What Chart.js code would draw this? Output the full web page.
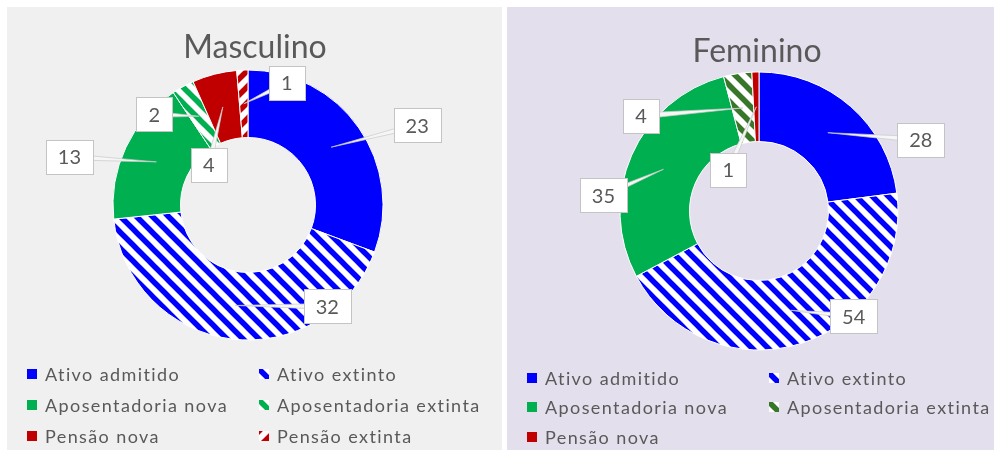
<!DOCTYPE html>
<html>
<head>
<meta charset="utf-8">
<script src="https://cdn.jsdelivr.net/npm/chart.js@4.4.0/dist/chart.umd.min.js"></script>
<style>
  body { margin: 0; background: #fff; width: 994px; height: 450px; overflow: hidden; position: relative; font-family: Lato, sans-serif; }
  .panel { position: absolute; top: 7px; height: 443px; }
  #panelM { left: 7px; width: 495px; background: #f0f0f0; }
  #panelF { left: 507px; width: 487px; background: #e4dfec; }
  .panel > canvas { position: absolute; left: 0; top: 0; }
  .legend { position: absolute; left: 20px; display: grid; color: #595959; font-size: 18px; letter-spacing: 1.4px; }
  .legend .item { display: flex; align-items: center; white-space: nowrap; }
  .legend .item canvas { margin-right: 8px; }
</style>
</head>
<body>
<div class="panel" id="panelM">
  <canvas id="chartM" width="495" height="440"></canvas>
  <div class="legend" id="legendM" style="top:351px; grid-template-columns:232px auto; grid-auto-rows:31px;"></div>
</div>
<div class="panel" id="panelF">
  <canvas id="chartF" width="487" height="440"></canvas>
  <div class="legend" id="legendF" style="top:356px; grid-template-columns:242px auto; grid-auto-rows:29.5px;"></div>
</div>
<script>
// categories and values
const categories = ["Ativo admitido", "Ativo extinto", "Aposentadoria nova", "Aposentadoria extinta", "Pensão nova", "Pensão extinta"];
const masculinoValues = [23, 32, 13, 2, 4, 1];
const femininoCategories = categories.slice(0, 5);
const femininoValues = [28, 54, 35, 4, 1];

// where each callout box sits, relative to the middle of its slice
const masculinoLabelOffsets = [[86, -22], [92, 1], [-87, -5], [-45, -2], [-14, 58], [43, -21]];
const femininoLabelOffsets = [[93, 7], [63, 6], [-60, 26], [-102, 8], [-28, 63]];

// white tile with diagonal stripes, used as a fill pattern
function stripes(color, dir) {
  const p = 16;
  const tile = document.createElement("canvas");
  tile.width = p; tile.height = p;
  const c = tile.getContext("2d");
  c.fillStyle = "#ffffff";
  c.fillRect(0, 0, p, p);
  c.strokeStyle = color;
  c.lineWidth = 5.5;
  for (let k = -1; k <= 2; k++) {
    c.beginPath();
    // lines run past the tile edges so the stripes join up
    if (dir === "\\") { c.moveTo(k * p - p, -p); c.lineTo(k * p + 2 * p, 2 * p); }
    else { c.moveTo(k * p + p, -p); c.lineTo(k * p - 2 * p, 2 * p); }
    c.stroke();
  }
  return c.createPattern(tile, "repeat");
}

const masculinoFills = ["#0000ff", stripes("#0000ff", "\\"), "#00b050", stripes("#00b050", "\\"), "#c00000", stripes("#c00000", "/")];
const femininoFills = ["#0000ff", stripes("#0000ff", "\\"), "#00b050", stripes("#38762a", "\\"), "#c00000"];

// title drawn over the panel centre
const panelTitle = {
  id: "panelTitle",
  afterDraw(chart, args, opts) {
    const ctx = chart.ctx;
    ctx.save();
    ctx.font = "32px Lato";
    ctx.fillStyle = "#595959";
    ctx.textAlign = "center";
    ctx.textBaseline = "alphabetic";
    ctx.fillText(opts.text, opts.x, opts.y);
    ctx.restore();
  }
};

// callout boxes with wedge-shaped leaders
const callouts = {
  id: "callouts",
  afterDatasetsDraw(chart, args, opts) {
    const ctx = chart.ctx;
    const meta = chart.getDatasetMeta(0);
    const values = chart.data.datasets[0].data;
    ctx.save();
    ctx.font = "20px Lato";
    meta.data.forEach((arc, i) => {
      const p = arc.getCenterPoint();
      const bx = p.x + opts.offsets[i][0];
      const by = p.y + opts.offsets[i][1];
      const ang = Math.atan2(by - p.y, bx - p.x);
      const hw = 3;
      ctx.beginPath();
      ctx.moveTo(p.x, p.y);
      ctx.lineTo(bx + Math.sin(ang) * hw, by - Math.cos(ang) * hw);
      ctx.lineTo(bx - Math.sin(ang) * hw, by + Math.cos(ang) * hw);
      ctx.closePath();
      ctx.fillStyle = "#f6f6f6";
      ctx.fill();
      ctx.strokeStyle = "#c8c8c8";
      ctx.lineWidth = 0.7;
      ctx.stroke();

      const text = String(values[i]);
      const w = Math.round(ctx.measureText(text).width + 24);
      const h = 34;
      const x0 = Math.round(bx - w / 2) + 0.5, y0 = Math.round(by - h / 2) + 0.5;
      ctx.fillStyle = "#ffffff";
      ctx.fillRect(x0, y0, w, h);
      ctx.strokeStyle = "#c4c4c4";
      ctx.lineWidth = 1;
      ctx.strokeRect(x0, y0, w, h);
      ctx.fillStyle = "#595959";
      ctx.textAlign = "center";
      ctx.textBaseline = "middle";
      ctx.fillText(text, bx, by + 1);
    });
    ctx.restore();
  }
};

function makeChart(id, labels, values, fills, radius, padding, title, offsets) {
  return new Chart(document.getElementById(id), {
    type: "doughnut",
    data: {
      labels: labels,
      datasets: [{
        data: values,
        backgroundColor: fills,
        borderColor: "#ffffff",
        borderWidth: 1
      }]
    },
    options: {
      responsive: false,
      animation: false,
      events: [],
      radius: radius,
      cutout: "50%",
      layout: { padding: padding },
      plugins: {
        legend: { display: false },
        tooltip: { enabled: false },
        panelTitle: title,
        callouts: { offsets: offsets }
      }
    },
    plugins: [panelTitle, callouts]
  });
}

function buildLegend(id, labels, fills) {
  const box = document.getElementById(id);
  labels.forEach((label, i) => {
    const item = document.createElement("div");
    item.className = "item";
    const sw = document.createElement("canvas");
    sw.width = 10; sw.height = 10;
    const c = sw.getContext("2d");
    c.fillStyle = fills[i];
    c.fillRect(0, 0, 10, 10);
    item.appendChild(sw);
    const span = document.createElement("span");
    span.textContent = label;
    item.appendChild(span);
    box.appendChild(item);
  });
}

document.fonts.load("20px Lato").then(() => {
  makeChart("chartM", categories, masculinoValues, masculinoFills, 135,
    { top: 63, bottom: 107, left: 0, right: 13 },
    { text: "Masculino", x: 248, y: 51 }, masculinoLabelOffsets);
  makeChart("chartF", femininoCategories, femininoValues, femininoFills, 139,
    { top: 65, bottom: 97, left: 17, right: 0 },
    { text: "Feminino", x: 250, y: 55 }, femininoLabelOffsets);
  buildLegend("legendM", categories, masculinoFills);
  buildLegend("legendF", femininoCategories, femininoFills);
});
</script>
</body>
</html>
